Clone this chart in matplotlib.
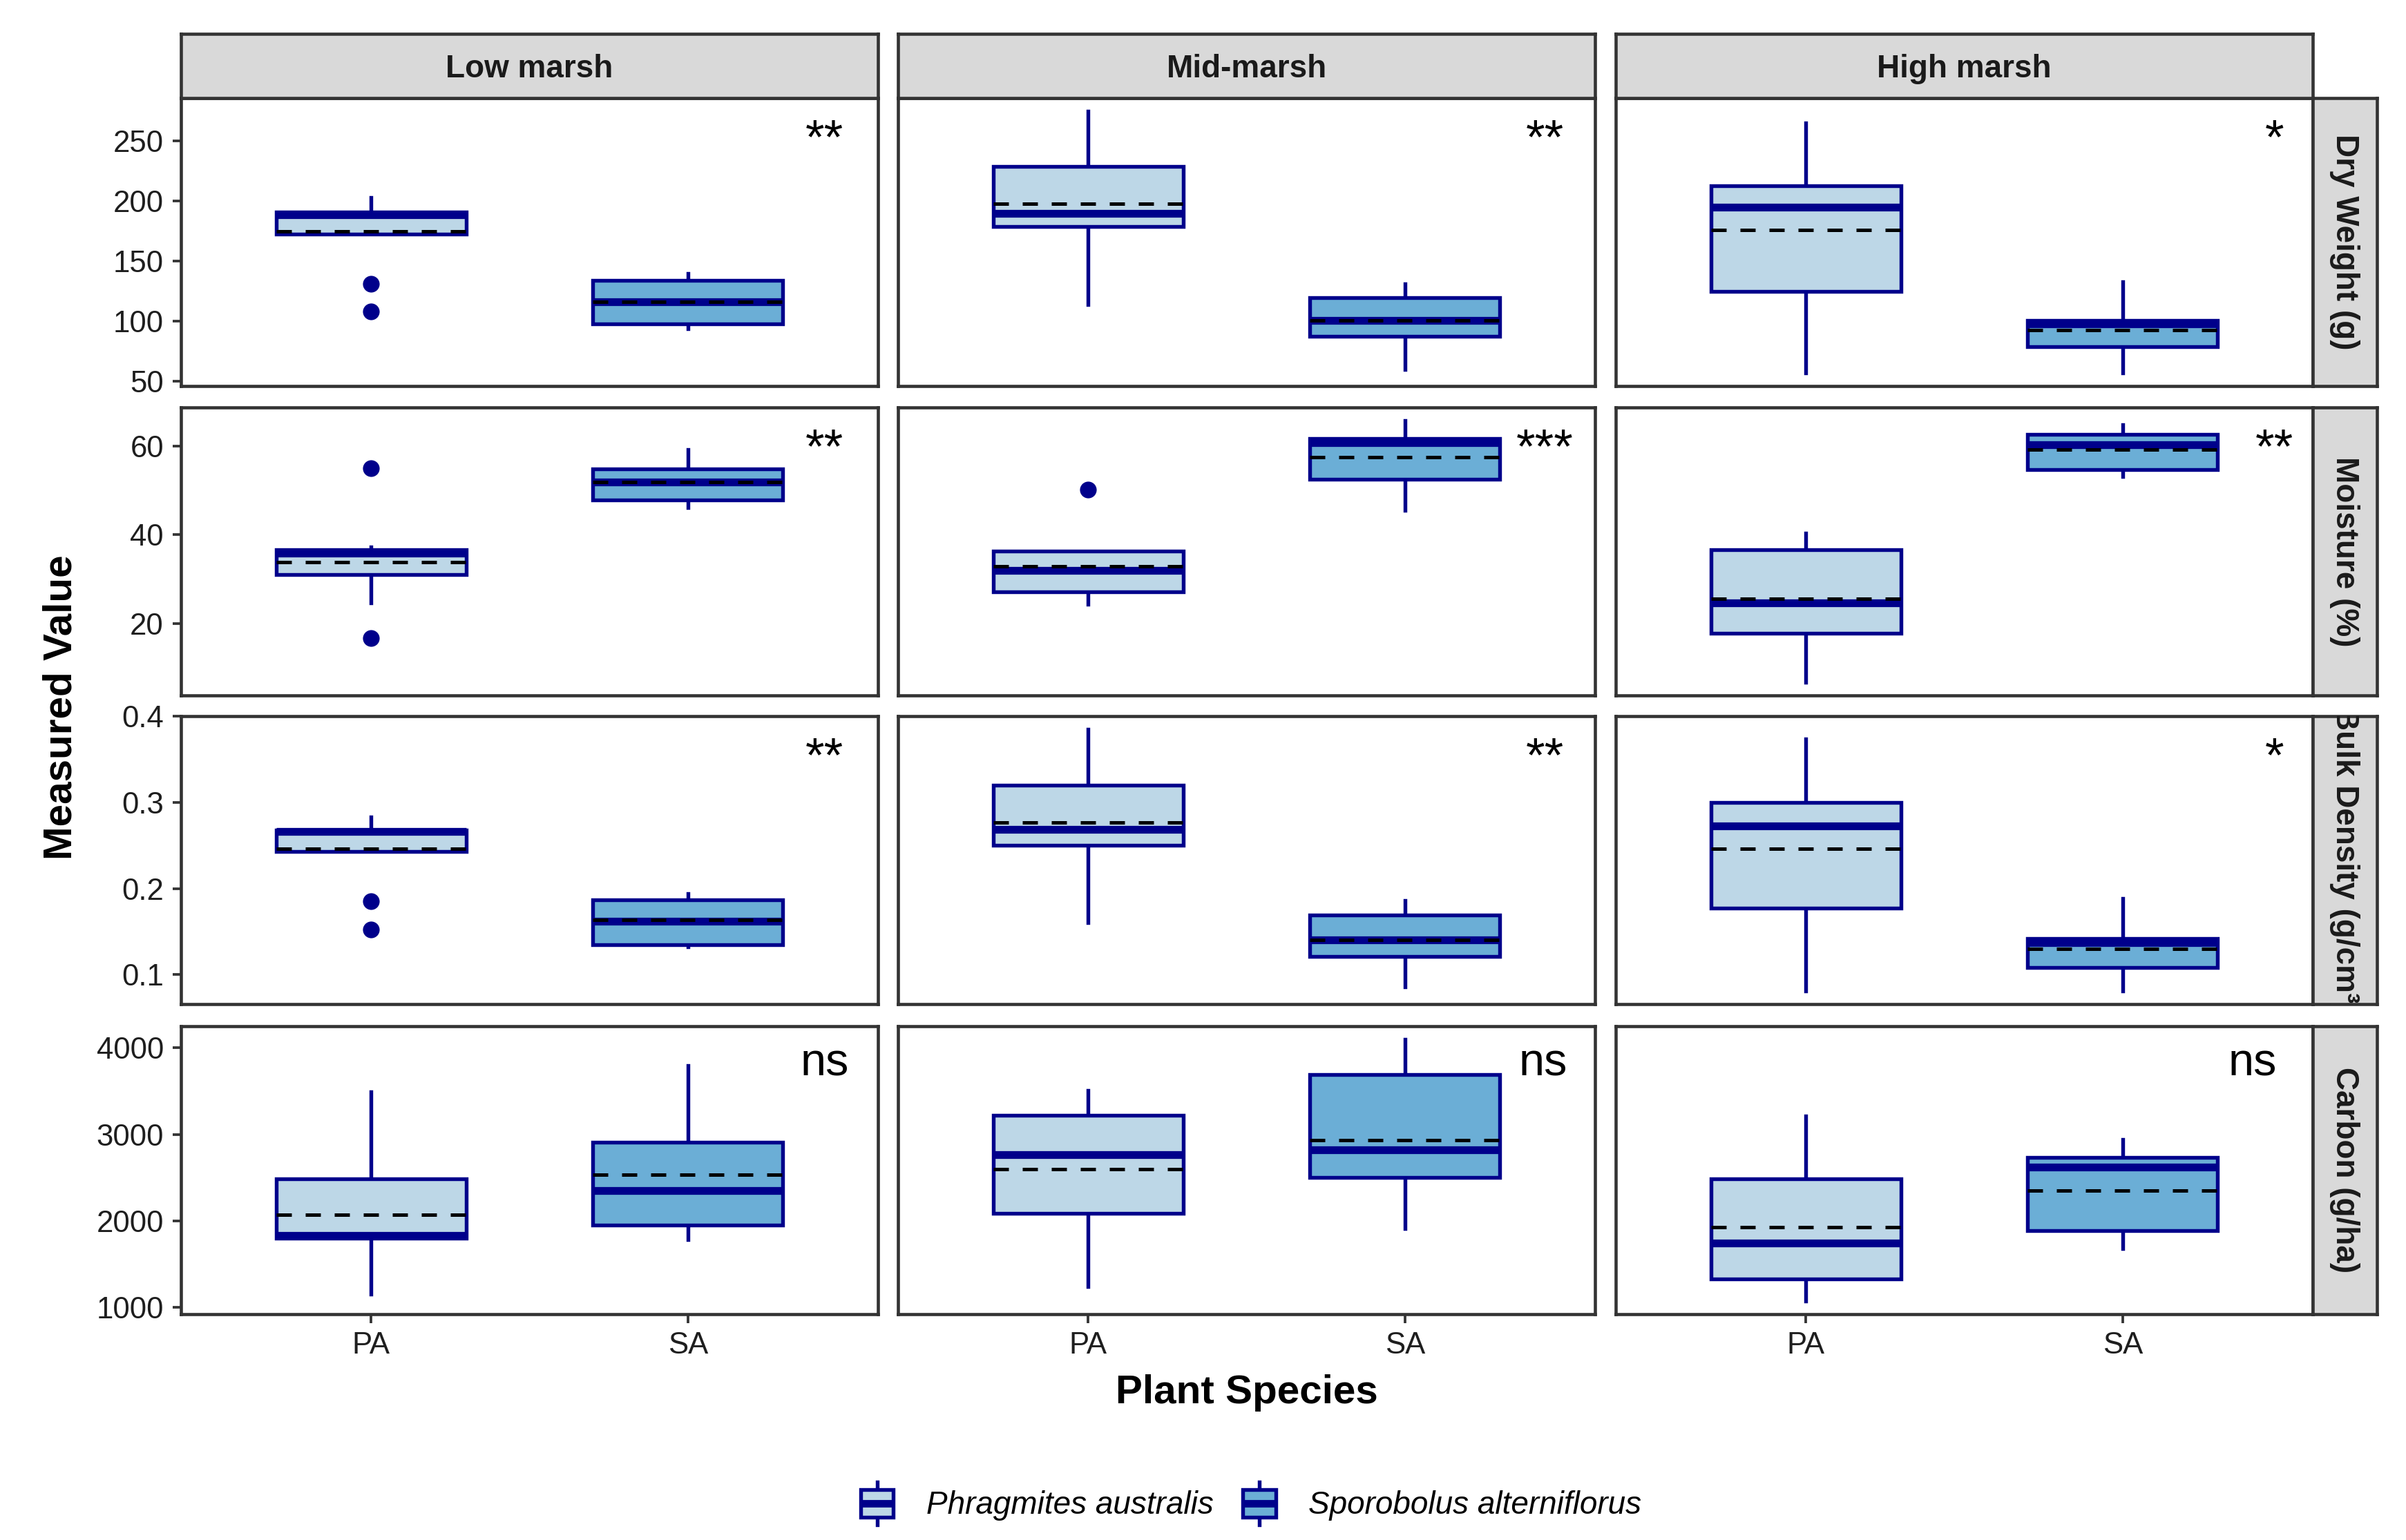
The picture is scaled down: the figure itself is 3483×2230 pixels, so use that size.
import matplotlib
matplotlib.use("Agg")
import matplotlib.pyplot as plt
from matplotlib.legend_handler import HandlerBase
from matplotlib.lines import Line2D
from matplotlib.patches import Rectangle, Patch

plt.rcParams["font.family"] = ["Liberation Sans", "DejaVu Sans"]

ZONES = ["Low marsh", "Mid-marsh", "High marsh"]
METRICS = ["Dry Weight (g)", "Moisture (%)", "Bulk Density (g/cm³)", "Carbon (g/ha)"]
SPECIES = ["PA", "SA"]
SPECIES_NAMES = ["Phragmites australis", "Sporobolus alterniflorus"]

# all tables: [metric][zone][species]
whislo = [
    [[172.5, 94], [114, 60], [57, 57]],
    [[24.6, 46.2], [24.3, 45.5], [6.7, 53.2]],
    [[0.243, 0.132], [0.160, 0.086], [0.081, 0.081]],
    [[1157, 1787], [1240, 1914], [1074, 1680]],
]
q1 = [
    [[172.5, 98], [179, 87.5], [125, 79]],
    [[31.0, 47.9], [27.1, 52.5], [17.7, 54.7]],
    [[0.243, 0.135], [0.250, 0.121], [0.177, 0.108]],
    [[1802, 1953], [2085, 2500], [1328, 1890]],
]
med = [
    [[189, 116], [190, 100.7], [195, 98]],
    [[35.8, 51.9], [32.0, 60.8], [24.6, 60.3]],
    [[0.266, 0.162], [0.268, 0.140], [0.272, 0.137]],
    [[1831, 2354], [2769, 2818], [1743, 2622]],
]
q3 = [
    [[191, 134], [229, 119.5], [213, 100.5]],
    [[36.6, 54.9], [36.3, 61.7], [36.6, 62.6]],
    [[0.268, 0.187], [0.319, 0.169], [0.299, 0.142]],
    [[2490, 2906], [3218, 3692], [2490, 2735]],
]
whishi = [
    [[203, 140], [275, 131], [265, 133]],
    [[37.3, 59.3], [36.3, 65.8], [40.4, 64.9]],
    [[0.283, 0.194], [0.384, 0.186], [0.373, 0.188]],
    [[3492, 3795], [3511, 4098], [3209, 2940]],
]
means = [
    [[175, 116], [198, 101], [176, 92.5]],
    [[33.8, 51.9], [32.9, 57.5], [25.6, 59.3]],
    [[0.246, 0.164], [0.276, 0.140], [0.246, 0.130]],
    [[2070, 2534], [2598, 2930], [1924, 2354]],
]
outliers = [
    [[[131, 108], []], [[], []], [[], []]],
    [[[55, 16.7], []], [[50.2], []], [[], []]],
    [[[0.185, 0.152], []], [[], []], [[], []]],
    [[[], []], [[], []], [[], []]],
]
signif = [
    ["**", "**", "*"],
    ["**", "***", "**"],
    ["**", "**", "*"],
    ["ns", "ns", "ns"],
]
yticks = [
    [50, 100, 150, 200, 250],
    [20, 40, 60],
    [0.1, 0.2, 0.3, 0.4],
    [1000, 2000, 3000, 4000],
]

NAVY = "#00008B"
FILLS = ["#BDD7E7", "#6BAED6"]
BORDER = "#333333"

W, H = 3483, 2230
fig = plt.figure(figsize=(W / 300, H / 300), dpi=300)

col_x = [262, 1300, 2339]
col_w = 1009
row_top = [142, 590, 1037, 1486]
row_h = 417
strip_w = 93


def rect(x, y, w, h):
    return [x / W, 1 - (y + h) / H, w / W, h / H]


def style_frame(ax):
    for sp in ax.spines.values():
        sp.set_color(BORDER)
        sp.set_linewidth(1.1)


for r in range(len(METRICS)):
    vals = [v for z in range(3) for s in range(2)
            for v in [whislo[r][z][s], whishi[r][z][s]] + outliers[r][z][s]]
    lo, hi = min(vals), max(vals)
    pad = (hi - lo) * 0.05
    for z in range(len(ZONES)):
        ax = fig.add_axes(rect(col_x[z], row_top[r], col_w, row_h))
        stats = []
        for s in range(2):
            stats.append(dict(whislo=whislo[r][z][s], q1=q1[r][z][s], med=med[r][z][s],
                              q3=q3[r][z][s], whishi=whishi[r][z][s], mean=means[r][z][s],
                              fliers=outliers[r][z][s]))
        bp = ax.bxp(stats, positions=[1, 2], widths=0.6, patch_artist=True,
                    showcaps=False, showmeans=True, meanline=True,
                    boxprops=dict(edgecolor=NAVY, linewidth=1.3),
                    whiskerprops=dict(color=NAVY, linewidth=1.3, zorder=1.5),
                    medianprops=dict(color=NAVY, linewidth=2.7, solid_capstyle="butt"),
                    meanprops=dict(color="black", linewidth=1.2, linestyle=(0, (4.4, 4.0))),
                    flierprops=dict(marker="o", markerfacecolor=NAVY, markeredgecolor=NAVY,
                                    markersize=4.8))
        for patch, c in zip(bp["boxes"], FILLS):
            patch.set_facecolor(c)
        ax.set_xlim(0.4, 2.6)
        ax.set_ylim(lo - pad, hi + pad)
        style_frame(ax)
        ax.tick_params(colors=BORDER, labelcolor="#1E1E1E", length=3, width=0.9,
                       labelsize=10.5, pad=3)
        if z == 0:
            ax.set_yticks(yticks[r])
            ax.set_yticklabels([f"{t:g}" for t in yticks[r]])
        else:
            ax.set_yticks([])
        if r == len(METRICS) - 1:
            ax.set_xticks([1, 2])
            ax.set_xticklabels(SPECIES)
        else:
            ax.set_xticks([])
        if signif[r][z] == "ns":
            ax.text([0.923, 0.925, 0.914][z], 0.87, signif[r][z], transform=ax.transAxes,
                    ha="center", va="center", fontsize=16, color="black")
        else:
            ax.text([0.923, 0.928, 0.945][z], 0.85, signif[r][z], transform=ax.transAxes,
                    ha="center", va="center", fontsize=17, color="black")

        # column strips on top
        if r == 0:
            sax = fig.add_axes(rect(col_x[z], 49, col_w, 93))
            sax.set_facecolor("#D9D9D9")
            sax.set_xticks([]); sax.set_yticks([])
            style_frame(sax)
            sax.text(0.5, 0.45, ZONES[z], transform=sax.transAxes, ha="center", va="center",
                     fontsize=11, fontweight="bold", color="#1A1A1A")

    # row strips on the right
    rax = fig.add_axes(rect(col_x[2] + col_w, row_top[r], strip_w, row_h))
    rax.set_facecolor("#D9D9D9")
    rax.set_xticks([]); rax.set_yticks([])
    style_frame(rax)
    rax.text(0.5, 0.5, METRICS[r], transform=rax.transAxes, ha="center", va="center",
             rotation=-90, fontsize=11, fontweight="bold", color="#1A1A1A", clip_on=True)

fig.text(89 / W, 1 - 1024 / H, "Measured Value", rotation=90, ha="center", va="center",
         fontsize=14, fontweight="bold")
fig.text(1805 / W, 1 - 2017 / H, "Plant Species", ha="center", va="center",
         fontsize=14, fontweight="bold")


class BoxKey(HandlerBase):
    def create_artists(self, legend, orig_handle, xdescent, ydescent, width, height,
                       fontsize, trans):
        x0, y0 = -xdescent, -ydescent
        cx = x0 + width / 2
        fc = orig_handle.get_facecolor()
        whisk = Line2D([cx, cx], [y0 - 0.12 * height, y0 + 1.12 * height], color=NAVY,
                       linewidth=1.3, transform=trans)
        box = Rectangle((x0 + 0.1 * width, y0 + 0.1 * height), 0.8 * width, 0.8 * height,
                        facecolor=fc, edgecolor=NAVY, linewidth=1.3, transform=trans)
        mid = Line2D([x0 + 0.1 * width, x0 + 0.9 * width], [y0 + height / 2] * 2,
                     color=NAVY, linewidth=2.6, solid_capstyle="butt", transform=trans)
        return [whisk, box, mid]


handles = [Patch(facecolor=c) for c in FILLS]
fig.legend(handles, SPECIES_NAMES, handler_map={Patch: BoxKey()}, loc="center",
           bbox_to_anchor=(1808 / W, 1 - 2177 / H), ncol=2, frameon=False,
           prop=dict(style="italic", size=11), handlelength=1.3, handleheight=1.3,
           handletextpad=0.9, columnspacing=0.8)

fig.savefig("out.png", dpi=300)
